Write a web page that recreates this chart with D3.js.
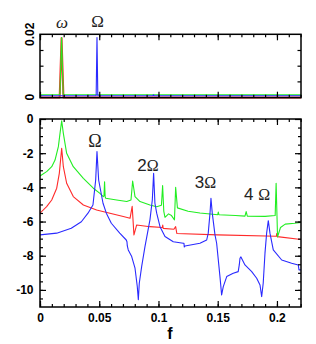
<!DOCTYPE html>
<html>
<head>
<meta charset="utf-8">
<script src="https://cdn.jsdelivr.net/npm/d3@7"></script>
<style>
  body { margin: 0; background: #fff; }
  svg { display: block; }
</style>
</head>
<body>
<div id="chart"></div>
<script>
// spectra, [f, value]
// lower panel: log of power
var green_log = [[0, -3.33], [0.0056, -3.08], [0.0099, -2.79], [0.0127, -2.4], [0.0155, -1.62], [0.0169, -0.84],
  [0.0183, -0.1], [0.0197, -0.84], [0.0225, -2.01], [0.0281, -2.79], [0.0366, -3.47], [0.045, -4.05],
  [0.0506, -4.35], [0.0534, -4.54], [0.054, -4.5], [0.0545, -3.67], [0.055, -4.55], [0.0555, -4.64],
  [0.0647, -4.74], [0.0732, -4.83], [0.0768, -4.74], [0.0782, -3.63], [0.0802, -4.54], [0.0844, -4.83],
  [0.0928, -5.03], [0.0985, -5.13], [0.1025, -5.05], [0.1035, -3.9], [0.1045, -5.4], [0.1055, -5.75],
  [0.1085, -5.55], [0.111, -5.65], [0.1135, -5.9], [0.1145, -4.0], [0.116, -5.2], [0.125, -5.4],
  [0.135, -5.5], [0.15, -5.6], [0.1505, -5.45], [0.151, -5.6], [0.165, -5.65], [0.173, -5.68],
  [0.174, -5.42], [0.175, -5.68], [0.19, -5.7], [0.1985, -5.65], [0.1993, -3.76], [0.2005, -6.9],
  [0.203, -6.35], [0.207, -6.15], [0.215, -6.1], [0.2203, -6.05]];

var red_log = [[0, -5.51], [0.0056, -5.13], [0.0099, -4.74], [0.0141, -4.05], [0.0163, -3.18], [0.0183, -1.71],
  [0.0197, -2.79], [0.0225, -3.76], [0.0281, -4.54], [0.0366, -5.03], [0.0478, -5.32], [0.059, -5.51],
  [0.0703, -5.71], [0.076, -5.81], [0.0778, -5.11], [0.0793, -6.78], [0.0816, -6.2], [0.0928, -6.3],
  [0.1033, -6.35], [0.1036, -6.2], [0.104, -6.4], [0.113, -6.45], [0.1145, -6.3], [0.1155, -6.7],
  [0.15, -6.78], [0.1995, -6.86], [0.1998, -6.7], [0.2003, -6.88], [0.2203, -7.05]];

var blue_log = [[0, -6.78], [0.0141, -6.68], [0.0264, -6.39], [0.0349, -6.01], [0.0405, -5.51], [0.0447, -5.03],
  [0.047, -3.57], [0.0481, -1.91], [0.0495, -3.57], [0.0532, -4.93], [0.056, -5.51], [0.0602, -6.1],
  [0.0673, -6.68], [0.0728, -7.08], [0.0734, -7.18], [0.0737, -7.43], [0.0745, -7.66], [0.0774, -8.05],
  [0.0802, -8.73], [0.0821, -9.8], [0.083, -10.58], [0.0838, -9.61], [0.0858, -8.64], [0.0886, -7.47],
  [0.0928, -5.9], [0.0948, -4.74], [0.0959, -3.18], [0.097, -4.93], [0.0985, -5.51], [0.1013, -6.3],
  [0.1055, -6.88], [0.1125, -7.18], [0.1209, -7.27], [0.1215, -7.27], [0.1218, -7.49], [0.1224, -7.43],
  [0.135, -7.27], [0.1407, -7.08], [0.142, -6.68], [0.1435, -5.51], [0.1443, -4.64], [0.1454, -5.51],
  [0.1477, -6.78], [0.1491, -7.27], [0.1519, -9.22], [0.1533, -10.29], [0.1547, -9.81], [0.1576, -9.22],
  [0.1631, -9.02], [0.1673, -8.93], [0.1682, -8.54], [0.1688, -8.15], [0.1696, -8.07], [0.173, -8.54],
  [0.1787, -8.93], [0.1829, -9.32], [0.1857, -9.71], [0.1871, -10.39], [0.1884, -9.61], [0.1899, -7.85],
  [0.1913, -6.68], [0.1927, -5.95], [0.1941, -6.68], [0.1969, -7.66], [0.204, -8.25], [0.2124, -8.44],
  [0.218, -8.54], [0.2186, -8.83], [0.2203, -8.83]];

// upper panel: power
var green_power = [[0, 0.0007], [0.0168, 0.0008], [0.0182, 0.019], [0.0196, 0.0008], [0.2203, 0.0007]];
var red_power = [[0, -0.0001], [0.0166, -0.0001], [0.0182, 0.0188], [0.0198, -0.0001], [0.2203, -0.0001]];
var blue_power = [[0, 0.0004], [0.0474, 0.0004], [0.0481, 0.019], [0.0488, 0.0004], [0.0952, 0.0004],
  [0.0958, 0.0007], [0.0964, 0.0004], [0.2203, 0.0004]];

var x_ticks = [0, 0.05, 0.1, 0.15, 0.2];
var x_tick_labels = ['0', '0.05', '0.1', '0.15', '0.2'];
var y_ticks = [0, -2, -4, -6, -8, -10];
var y_tick_labels = ['0', '-2', '-4', '-6', '-8', '-10'];
var power_ticks = [0, 0.02];
var power_tick_labels = ['0', '0.02'];

chart_width = 316;
chart_height = 344;
tick_font = 'Liberation Sans, Arial, sans-serif';

var svg = d3.select('#chart')
  .append('svg')
  .attr('width', chart_width)
  .attr('height', chart_height);

// scales
x_scale = d3.scaleLinear().domain([0, 0.2203]).range([40, 301]);
y_low = d3.scaleLinear().domain([-11, 0]).range([307, 119]);
y_top = d3.scaleLinear().domain([-0.0002, 0.02]).range([97.7, 34.3]);

var series = [
  {log: red_log, power: red_power, color: '#ff2a2a'},
  {log: green_log, power: green_power, color: '#22ee22'},
  {log: blue_log, power: blue_power, color: '#2a2aff'}
];

function clip(id, y_scale) {
  svg.append('clipPath').attr('id', id)
    .append('rect')
    .attr('x', x_scale.range()[0])
    .attr('y', y_scale.range()[1])
    .attr('width', x_scale.range()[1] - x_scale.range()[0])
    .attr('height', y_scale.range()[0] - y_scale.range()[1]);
}
clip('clip-top', y_top);
clip('clip-low', y_low);

// curves
var line_low = d3.line().x((d) => x_scale(d[0])).y((d) => y_low(d[1]));
var line_top = d3.line().x((d) => x_scale(d[0])).y((d) => y_top(d[1]));

svg.append('g').attr('clip-path', 'url(#clip-low)')
  .selectAll('path')
  .data(series)
  .enter()
  .append('path')
  .attr('d', (d) => line_low(d.log))
  .attr('fill', 'none')
  .attr('stroke', (d) => d.color)
  .attr('stroke-width', 1.1)
  .attr('stroke-linejoin', 'round');

svg.append('g')
  .selectAll('path')
  .data(series)
  .enter()
  .append('path')
  .attr('d', (d) => line_top(d.power))
  .attr('fill', 'none')
  .attr('stroke', (d) => d.color)
  .attr('stroke-width', (d) => d.color == '#ff2a2a' ? 2 : 1.1)
  .attr('stroke-linejoin', 'round');

// ticks pointing inward on all four sides
function ticks(axis, translate, values, size, labels, padding) {
  var g = svg.append('g')
    .attr('transform', translate)
    .call(axis.tickValues(values).tickSize(size).tickPadding(padding)
      .tickFormat((d, i) => labels ? labels[i] : ''));
  g.select('.domain').remove();
  g.selectAll('line').attr('stroke', '#000').attr('stroke-width', 1.2);
  g.selectAll('text')
    .attr('font-family', tick_font)
    .attr('font-weight', 'bold')
    .attr('font-size', 12)
    .attr('fill', '#000');
  return g;
}

var x_minor = d3.range(0, 0.221, 0.01);

// lower panel
ticks(d3.axisBottom(x_scale), 'translate(0,307)', x_ticks, -6, x_tick_labels, 6.5);
ticks(d3.axisBottom(x_scale), 'translate(0,307)', x_minor, -3, null, 0);
ticks(d3.axisTop(x_scale), 'translate(0,119)', x_ticks, -6, null, 0);
ticks(d3.axisTop(x_scale), 'translate(0,119)', x_minor, -3, null, 0);
ticks(d3.axisLeft(y_low), 'translate(40,0)', y_ticks, -6, y_tick_labels, 6.5);
ticks(d3.axisLeft(y_low), 'translate(40,0)', d3.range(-10.5, 0, 0.5), -3, null, 0);
ticks(d3.axisRight(y_low), 'translate(301,0)', y_ticks, -6, null, 0);
ticks(d3.axisRight(y_low), 'translate(301,0)', d3.range(-10.5, 0, 0.5), -3, null, 0);

// upper panel
ticks(d3.axisBottom(x_scale), 'translate(0,97.7)', x_ticks, -6, null, 0);
ticks(d3.axisBottom(x_scale), 'translate(0,97.7)', x_minor, -3, null, 0);
ticks(d3.axisTop(x_scale), 'translate(0,34.3)', x_ticks, -6, null, 0);
ticks(d3.axisTop(x_scale), 'translate(0,34.3)', x_minor, -3, null, 0);
ticks(d3.axisLeft(y_top), 'translate(40,0)', [0.005, 0.01, 0.015], -3.5, null, 0);
ticks(d3.axisRight(y_top), 'translate(301,0)', [0.005, 0.01, 0.015], -3.5, null, 0);

// rotated labels of the upper panel
svg.selectAll('.power-label')
  .data(power_ticks)
  .enter()
  .append('text')
  .attr('class', 'power-label')
  .attr('transform', (d) => 'translate(34,' + y_top(d) + ') rotate(-90)')
  .attr('text-anchor', 'middle')
  .attr('font-family', tick_font)
  .attr('font-weight', 'bold')
  .attr('font-size', 12)
  .text((d, i) => power_tick_labels[i]);

// frames
[y_top, y_low].forEach(function(y_scale) {
  svg.append('rect')
    .attr('x', x_scale.range()[0])
    .attr('y', y_scale.range()[1])
    .attr('width', x_scale.range()[1] - x_scale.range()[0])
    .attr('height', y_scale.range()[0] - y_scale.range()[1])
    .attr('fill', 'none')
    .attr('stroke', '#000')
    .attr('stroke-width', 1.5);
});

// x axis title
svg.append('text')
  .attr('x', 170)
  .attr('y', 339)
  .attr('text-anchor', 'middle')
  .attr('font-family', tick_font)
  .attr('font-weight', 'bold')
  .attr('font-size', 16)
  .text('f');

// harmonic labels
var peak_labels = [
  {n: '', sym: 'ω', x: 62, y: 28, size: 17, italic: true},
  {n: '', sym: 'Ω', x: 97.5, y: 27, size: 17},
  {n: '', sym: 'Ω', x: 95, y: 147, size: 18},
  {n: '2', sym: 'Ω', x: 148, y: 171, size: 16},
  {n: '3', sym: 'Ω', x: 205.5, y: 188, size: 16},
  {n: '4 ', sym: 'Ω', x: 257, y: 200, size: 16}
];

var labels = svg.selectAll('.peak-label')
  .data(peak_labels)
  .enter()
  .append('text')
  .attr('class', 'peak-label')
  .attr('x', (d) => d.x)
  .attr('y', (d) => d.y)
  .attr('text-anchor', 'middle')
  .attr('fill', '#222');

labels.append('tspan')
  .attr('font-family', tick_font)
  .attr('font-size', (d) => d.size + 1)
  .text((d) => d.n);

labels.append('tspan')
  .attr('font-family', 'Liberation Serif, Times New Roman, serif')
  .attr('font-size', (d) => d.size)
  .attr('font-style', (d) => d.italic ? 'italic' : 'normal')
  .text((d) => d.sym);
</script>
</body>
</html>
